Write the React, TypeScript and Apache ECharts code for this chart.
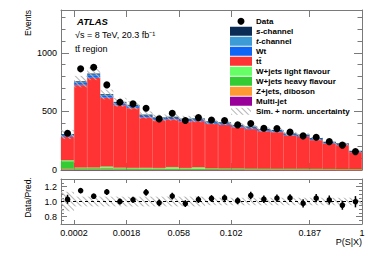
import { useEffect, useRef } from 'react';
import * as echarts from 'echarts';

const FONT = '"Liberation Sans", Arial, Helvetica, sans-serif';
const FRAME = '#7a7a7a';

// 23 bins of P(S|X)
const binIds = ['1', '2', '3', '4', '5', '6', '7', '8', '9', '10', '11', '12', '13', '14', '15', '16', '17', '18', '19', '20', '21', '22', '23'];
// 24 bin edges, labelled ones only
const edgeIds = ['e0', 'e1', 'e2', 'e3', 'e4', 'e5', 'e6', 'e7', 'e8', 'e9', 'e10', 'e11', 'e12', 'e13', 'e14', 'e15', 'e16', 'e17', 'e18', 'e19', 'e20', 'e21', 'e22', 'e23'];
const edgeLabels = ['', '0.0002', '', '', '', '0.0018', '', '', '', '0.058', '', '', '', '0.102', '', '', '', '', '', '0.187', '', '', '', '1'];

const dataEvents = [313, 863, 877, 726, 578, 564, 527, 436, 484, 422, 447, 427, 422, 385, 396, 356, 353, 323, 291, 280, 242, 212, 157];

const multiJet = [4, 2, 2, 2, 1, 1, 1, 1, 1, 1, 1, 1, 1, 1, 1, 1, 1, 1, 1, 1, 1, 1, 1];
const zJets = [5, 3, 3, 3, 3, 2, 2, 2, 2, 2, 2, 2, 2, 2, 1, 1, 1, 1, 1, 1, 1, 1, 1];
const wHeavy = [66, 12, 12, 12, 11, 10, 10, 9, 9, 9, 8, 8, 7, 7, 6, 6, 5, 5, 5, 4, 4, 3, 3];
const wLight = [8, 4, 5, 12, 5, 4, 5, 4, 12, 4, 12, 3, 3, 3, 3, 2, 2, 2, 2, 2, 1, 1, 1];
const ttbar = [201, 704, 764, 588, 533, 513, 431, 410, 409, 400, 395, 380, 373, 352, 340, 322, 315, 286, 276, 248, 220, 207, 146];
const wt = [12, 20, 24, 19, 17, 16, 14, 13, 13, 13, 13, 12, 12, 11, 11, 10, 10, 9, 9, 8, 7, 7, 5];
const tChannel = [5, 7, 8, 6, 6, 5, 5, 4, 4, 4, 4, 4, 4, 4, 4, 3, 3, 3, 3, 3, 2, 2, 2];
const sChannel = [2, 2, 2, 2, 2, 1, 1, 1, 1, 1, 1, 1, 1, 1, 1, 1, 1, 1, 1, 1, 1, 1, 1];

const uncRel = [0.13, 0.065, 0.065, 0.065, 0.065, 0.065, 0.065, 0.065, 0.065, 0.065, 0.065, 0.05, 0.05, 0.05, 0.05, 0.05, 0.05, 0.05, 0.05, 0.05, 0.05, 0.05, 0.05];

const ratioVals = [1.03, 1.145, 1.07, 1.127, 1.0, 1.022, 1.123, 0.983, 1.073, 0.972, 1.025, 1.04, 1.048, 1.01, 1.08, 1.03, 1.044, 1.048, 0.975, 1.044, 1.02, 0.95, 0.997];
const ratioErr = [0.06, 0.035, 0.035, 0.04, 0.04, 0.04, 0.045, 0.045, 0.045, 0.045, 0.045, 0.045, 0.045, 0.045, 0.05, 0.05, 0.05, 0.05, 0.055, 0.055, 0.06, 0.06, 0.075];

const mainYTicks = [0, 500, 1000];
const ratioYTicks = [0.8, 1.0, 1.2];

export default function App() {
  const ref = useRef<HTMLDivElement>(null);
  useEffect(() => {
    const chart = echarts.init(ref.current!, null, { renderer: 'svg' });

    const comps = [
      { name: 'Multi-jet', data: multiJet, color: '#990099' },
      { name: 'Z+jets, diboson', data: zJets, color: '#ff9933' },
      { name: 'W+jets heavy flavour', data: wHeavy, color: '#33cc33' },
      { name: 'W+jets light flavour', data: wLight, color: '#66ff66' },
      { name: 'tt\u0304', data: ttbar, color: '#ff3333' },
      { name: 'Wt', data: wt, color: '#0f66f5' },
      { name: 't-channel', data: tChannel, color: '#3d9bd6' },
      { name: 's-channel', data: sChannel, color: '#0b2c55' },
    ];
    const total = binIds.map((_, i) => comps.reduce((s, c) => s + c.data[i], 0));
    const uncLow = total.map((t, i) => t * (1 - uncRel[i]));
    const uncSpan = total.map((t, i) => 2 * t * uncRel[i]);
    const rLow = uncRel.map((r) => 1 - r);
    const rSpan = uncRel.map((r) => 2 * r);

    const hatch = {
      symbol: 'rect',
      symbolSize: 1,
      color: '#b4b4b4',
      dashArrayX: [1, 0],
      dashArrayY: [1, 2.5],
      rotation: Math.PI / 4,
    };

    const barCommon = {
      type: 'bar',
      barCategoryGap: '0%',
      barGap: '-100%',
      silent: true,
      emphasis: { disabled: true },
    };

    const edgeAxis = (gridIndex: number, position: string, len: number, labels: boolean) => ({
      type: 'category',
      gridIndex,
      position,
      data: edgeIds,
      boundaryGap: false,
      axisLine: { show: true, onZero: false, lineStyle: { color: FRAME, width: 1 } },
      axisTick: {
        show: true,
        inside: true,
        length: len,
        interval: (i: number) => edgeLabels[i] !== '',
        lineStyle: { color: FRAME, width: 1 },
      },
      axisLabel: {
        show: labels,
        interval: 0,
        margin: 4,
        fontSize: 9,
        color: '#000',
        fontFamily: FONT,
        formatter: (_v: string, i: number) => edgeLabels[i],
      },
      splitLine: { show: false },
    });

    const binAxis = (gridIndex: number) => ({
      type: 'category',
      gridIndex,
      data: binIds,
      boundaryGap: true,
      axisLine: { show: false },
      axisTick: { show: false },
      axisLabel: { show: false },
      splitLine: { show: false },
    });

    const smallY = (gridIndex: number, position: string, min: number, max: number, interval: number, len: number, labels: boolean, fmt?: (v: number) => string) => ({
      type: 'value',
      gridIndex,
      position,
      min,
      max,
      interval,
      axisLine: { show: true, onZero: false, lineStyle: { color: FRAME, width: 1 } },
      axisTick: { show: true, inside: true, length: len, lineStyle: { color: FRAME, width: 1 } },
      axisLabel: { show: labels, margin: 4, fontSize: 9, color: '#000', fontFamily: FONT, formatter: fmt, showMaxLabel: false },
      splitLine: { show: false },
    });

    const longY = (gridIndex: number, position: string, min: number, max: number, ticks: number[], len: number) => ({
      type: 'value',
      gridIndex,
      position,
      min,
      max,
      axisLine: { show: false },
      axisTick: { show: true, inside: true, length: len, customValues: ticks, lineStyle: { color: FRAME, width: 1 } },
      axisLabel: { show: false },
      splitLine: { show: false },
    });

    const mainMax = 1365;
    const option: any = {
      animation: false,
      textStyle: { fontFamily: FONT },
      grid: [
        { left: 61, top: 10, width: 301, height: 160, outerBoundsMode: 'none' },
        { left: 61, top: 179, width: 301, height: 45, outerBoundsMode: 'none' },
      ],
      xAxis: [
        binAxis(0),
        edgeAxis(0, 'bottom', 7, false),
        edgeAxis(0, 'top', 7, false),
        binAxis(1),
        edgeAxis(1, 'bottom', 4, true),
        edgeAxis(1, 'top', 4, false),
      ],
      yAxis: [
        smallY(0, 'left', 0, mainMax, 100, 4.5, true, (v: number) => (mainYTicks.includes(v) ? String(v) : '')),
        longY(0, 'left', 0, mainMax, mainYTicks, 8),
        smallY(0, 'right', 0, mainMax, 100, 4.5, false),
        longY(0, 'right', 0, mainMax, mainYTicks, 8),
        smallY(1, 'left', 0.7, 1.3, 0.05, 3, true, (v: number) => (ratioYTicks.some((t) => Math.abs(t - v) < 1e-6) ? v.toFixed(1) : '')),
        longY(1, 'left', 0.7, 1.3, ratioYTicks, 6),
        smallY(1, 'right', 0.7, 1.3, 0.05, 3, false),
        longY(1, 'right', 0.7, 1.3, ratioYTicks, 6),
      ],
      legend: {
        left: 230,
        top: 16.3,
        orient: 'vertical',
        padding: 0,
        itemWidth: 20,
        itemHeight: 7,
        itemGap: 0,
        selectedMode: false,
        textStyle: { fontSize: 8, fontWeight: 'bold', lineHeight: 10, color: '#000', fontFamily: FONT, rich: { i: { fontSize: 8, fontWeight: 'bold', fontStyle: 'italic', fontFamily: FONT, color: '#000' } } },
        formatter: (name: string) => {
          if (name === 's-channel') return '{i|s}-channel';
          if (name === 't-channel') return '{i|t}-channel';
          return name;
        },
        data: [
          { name: 'Data', icon: 'circle', itemStyle: { color: '#000', opacity: 1 } },
          { name: 's-channel', icon: 'rect' },
          { name: 't-channel', icon: 'rect' },
          { name: 'Wt', icon: 'rect' },
          { name: 'tt\u0304', icon: 'rect' },
          { name: 'W+jets light flavour', icon: 'rect' },
          { name: 'W+jets heavy flavour', icon: 'rect' },
          { name: 'Z+jets, diboson', icon: 'rect' },
          { name: 'Multi-jet', icon: 'rect' },
          { name: 'Sim. + norm. uncertainty', icon: 'rect' },
        ],
      },
      graphic: [
        { type: 'text', x: 77, y: 21.7, style: { text: 'ATLAS', fontSize: 9.5, fontWeight: 'bold', fontStyle: 'italic', fontFamily: FONT, fill: '#000', verticalAlign: 'middle' } },
        { type: 'text', x: 75, y: 34.5, style: { text: '\u221As = 8 TeV, 20.3 fb\u207B\u00B9', fontSize: 9, fontFamily: FONT, fill: '#000', verticalAlign: 'middle' } },
        { type: 'text', x: 75, y: 49, style: { text: 'tt\u0304 region', fontSize: 9, fontFamily: FONT, fill: '#000', verticalAlign: 'middle' } },
        { type: 'text', x: 28, y: 10, rotation: Math.PI / 2, style: { text: 'Events', fontSize: 8.5, fontFamily: FONT, fill: '#000', align: 'right', verticalAlign: 'middle' } },
        { type: 'text', x: 28, y: 197.5, rotation: Math.PI / 2, style: { text: 'Data/Pred.', fontSize: 8.5, fontFamily: FONT, fill: '#000', align: 'center', verticalAlign: 'middle' } },
        { type: 'text', x: 362, y: 241.5, style: { text: 'P(S|X)', fontSize: 9, fontFamily: FONT, fill: '#000', align: 'right', verticalAlign: 'middle' } },
      ],
      series: [
        ...comps.map((c) => ({
          ...barCommon,
          name: c.name,
          xAxisIndex: 0,
          yAxisIndex: 0,
          stack: 'mc',
          data: c.data,
          itemStyle: { color: c.color, borderColor: c.color, borderWidth: 0.5 },
        })),
        { ...barCommon, name: 'uncBase', xAxisIndex: 0, yAxisIndex: 0, stack: 'unc', data: uncLow, itemStyle: { color: 'rgba(0,0,0,0)' } },
        { ...barCommon, name: 'Sim. + norm. uncertainty', xAxisIndex: 0, yAxisIndex: 0, stack: 'unc', data: uncSpan, itemStyle: { color: 'rgba(255,255,255,0)', decal: hatch }, z: 3 },
        { type: 'scatter', name: 'Data', xAxisIndex: 0, yAxisIndex: 0, data: dataEvents, symbolSize: 7, itemStyle: { color: '#000', opacity: 1 }, z: 10, silent: true },
        { ...barCommon, name: 'rBase', xAxisIndex: 3, yAxisIndex: 4, stack: 'runc', data: rLow, itemStyle: { color: 'rgba(0,0,0,0)' } },
        { ...barCommon, name: 'rBand', xAxisIndex: 3, yAxisIndex: 4, stack: 'runc', data: rSpan, itemStyle: { color: 'rgba(255,255,255,0)', decal: hatch } },
        {
          type: 'custom',
          name: 'rErr',
          xAxisIndex: 3,
          yAxisIndex: 4,
          data: ratioVals.map((r, i) => [i, r, ratioErr[i]]),
          encode: { x: 0, y: 1 },
          z: 9,
          silent: true,
          renderItem: (_p: any, api: any) => {
            const x = api.value(0);
            const y = api.value(1);
            const e = api.value(2);
            const a = api.coord([x, y + e]);
            const b = api.coord([x, y - e]);
            return { type: 'line', shape: { x1: a[0], y1: a[1], x2: b[0], y2: b[1] }, style: { stroke: '#000', lineWidth: 1.5 } };
          },
        },
        {
          type: 'scatter',
          name: 'ratio',
          xAxisIndex: 3,
          yAxisIndex: 4,
          data: ratioVals,
          symbolSize: 5.5,
          itemStyle: { color: '#000', opacity: 1 },
          z: 10,
          silent: true,
          markLine: {
            silent: true,
            symbol: 'none',
            label: { show: false },
            lineStyle: { type: [3, 3], color: '#000', width: 1 },
            data: [{ yAxis: 1 }],
          },
        },
      ],
    };
    chart.setOption(option);
    return () => chart.dispose();
  }, []);
  return <div ref={ref} style={{ position: 'absolute', left: 0, top: 0, width: 382, height: 256 }} />;
}
